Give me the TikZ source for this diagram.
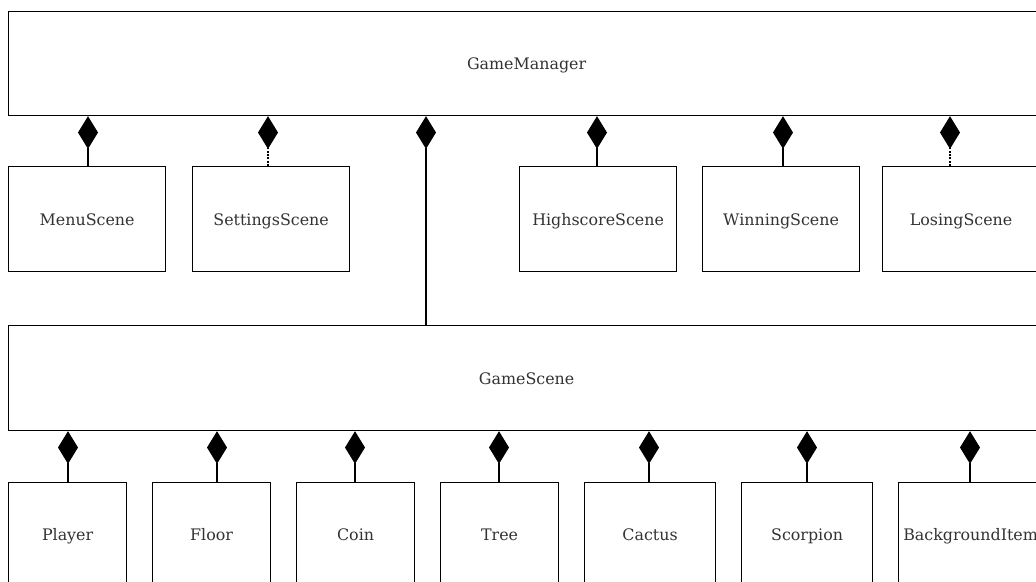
\documentclass[tikz,border=0pt]{standalone}
\usepackage{fontspec}
\setmainfont{DejaVu Serif}
\usetikzlibrary{arrows.meta}
\tikzset{
  cls/.style={draw=black, line width=0.9pt, rectangle, anchor=north west, inner sep=0pt,
    text=black!80, font=\fontsize{11.9}{14}\selectfont, text height=10pt, text depth=1pt},
  comp/.style={draw=black, line width=0.9pt, -{Diamond[length=24.5pt, width=15pt, fill=black]}},
  compd/.style={comp, dash pattern=on 1.5pt off 1pt},
}
\begin{document}
\begin{tikzpicture}[x=0.75pt, y=-0.75pt]
\clip (0,0) rectangle (1036,582);
\fill[white] (0,0) rectangle (1036,582);
% top row
\node[cls, minimum width=1036*0.75pt, minimum height=104*0.75pt] (gm) at (8,11) {GameManager};
\node[cls, minimum width=157*0.75pt, minimum height=105*0.75pt] (menu) at (8,166) {MenuScene};
\node[cls, minimum width=157*0.75pt, minimum height=105*0.75pt] (settings) at (192,166) {SettingsScene};
\node[cls, minimum width=157*0.75pt, minimum height=105*0.75pt] (high) at (519,166) {HighscoreScene};
\node[cls, minimum width=157*0.75pt, minimum height=105*0.75pt] (win) at (702,166) {WinningScene};
\node[cls, minimum width=157*0.75pt, minimum height=105*0.75pt] (lose) at (882,166) {LosingScene};
\node[cls, minimum width=1036*0.75pt, minimum height=105*0.75pt] (gs) at (8,325) {GameScene};
% bottom row
\node[cls, minimum width=118*0.75pt, minimum height=104*0.75pt] (player) at (8,482) {Player};
\node[cls, minimum width=118*0.75pt, minimum height=104*0.75pt] (floor) at (152,482) {Floor};
\node[cls, minimum width=118*0.75pt, minimum height=104*0.75pt] (coin) at (296,482) {Coin};
\node[cls, minimum width=118*0.75pt, minimum height=104*0.75pt] (tree) at (440,482) {Tree};
\node[cls, minimum width=131*0.75pt, minimum height=104*0.75pt] (cactus) at (584,482) {Cactus};
\node[cls, minimum width=131*0.75pt, minimum height=104*0.75pt] (scorpion) at (741,482) {Scorpion};
\node[cls, minimum width=144*0.75pt, minimum height=104*0.75pt] (bg) at (898,482) {BackgroundItem};
% connectors GameManager
\draw[comp] (menu.north -| 88,0) -- (gm.south -| 88,0);
\draw[compd] (settings.north -| 268,0) -- (gm.south -| 268,0);
\draw[comp] (gs.north -| 426,0) -- (gm.south -| 426,0);
\draw[comp] (high.north -| 597,0) -- (gm.south -| 597,0);
\draw[comp] (win.north -| 783,0) -- (gm.south -| 783,0);
\draw[compd] (lose.north -| 950,0) -- (gm.south -| 950,0);
% connectors GameScene
\draw[comp] (player.north -| 68,0) -- (gs.south -| 68,0);
\draw[comp] (floor.north -| 217,0) -- (gs.south -| 217,0);
\draw[comp] (coin.north -| 355,0) -- (gs.south -| 355,0);
\draw[comp] (tree.north -| 499,0) -- (gs.south -| 499,0);
\draw[comp] (cactus.north -| 649,0) -- (gs.south -| 649,0);
\draw[comp] (scorpion.north -| 807,0) -- (gs.south -| 807,0);
\draw[comp] (bg.north -| 970,0) -- (gs.south -| 970,0);
\end{tikzpicture}
\end{document}
